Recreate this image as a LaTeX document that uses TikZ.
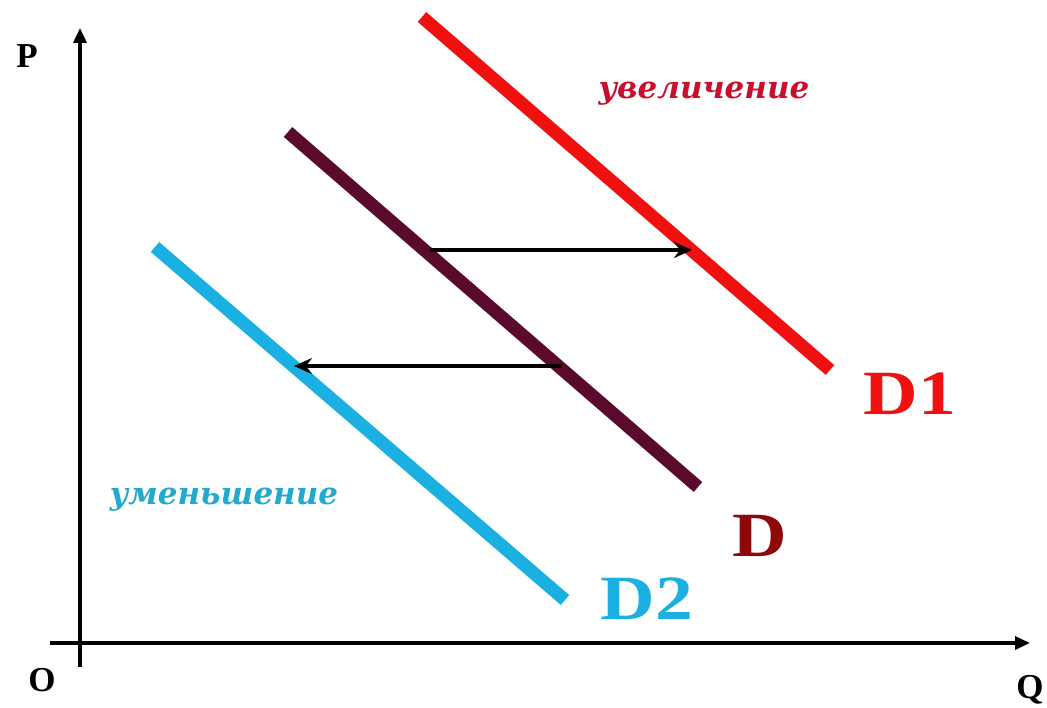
\documentclass[tikz,border=0pt]{standalone}
\usepackage{fontspec}
\setmainfont{Liberation Serif}
\newfontfamily\cyrit{DejaVu Serif}
\usetikzlibrary{arrows.meta}
\definecolor{cRed}{HTML}{F01010}
\definecolor{cMaroon}{HTML}{5A0A2C}
\definecolor{cCyan}{HTML}{1AB0E2}
\definecolor{cDlab}{HTML}{8E0A0A}
\definecolor{cUp}{HTML}{C8102E}
\definecolor{cDown}{HTML}{22AACC}
\newcommand{\wide}[1]{\scalebox{1.2}[1]{#1}}
\tikzset{
  axisline/.style={line width=3.5pt,-{Triangle[length=15pt,width=13pt]}},
  curve/.style={line width=13pt},
  shift arrow/.style={line width=3.5pt,-{Stealth[length=18pt,width=16pt,inset=6pt]}},
  axlabel/.style={font=\bfseries\fontsize{35}{35}\selectfont,inner sep=0pt},
  dlabel/.style={font=\bfseries\fontsize{63}{63}\selectfont,inner sep=0pt},
  note/.style={font=\cyrit\bfseries\itshape\fontsize{31}{31}\selectfont,inner sep=0pt}
}
\begin{document}
\begin{tikzpicture}[x=1pt,y=-1pt]
\useasboundingbox[fill=white] (0,0) rectangle (1047,708);
% axes
\coordinate (ybot) at (80,667);
\coordinate (ytop) at (80,28);
\coordinate (xleft) at (50,643);
\coordinate (xright) at (1030,643);
\draw[axisline] (ybot) -- (ytop);
\draw[axisline] (xleft) -- (xright);
\node[axlabel] (P) at (27,56) {P};
\node[axlabel] (O) at (42,680) {O};
\node[axlabel] (Q) at (1030,690) {Q};
% demand lines
\coordinate (d1a) at (422,17);
\coordinate (d1b) at (830,370);
\coordinate (da) at (288,132);
\coordinate (db) at (698,487);
\coordinate (d2a) at (155,247);
\coordinate (d2b) at (565,600);
\draw[curve,cRed] (d1a) -- (d1b);
\draw[curve,cMaroon] (da) -- (db);
\draw[curve,cCyan] (d2a) -- (d2b);
% shift arrows
\coordinate (upS) at (430,250);
\coordinate (upE) at (692,250);
\coordinate (dnS) at (562,366);
\coordinate (dnE) at (294,366);
\draw[shift arrow] (upS) -- (upE);
\draw[shift arrow] (dnS) -- (dnE);
% labels
\node[dlabel,text=cRed] (D1) at (910,394) {\wide{D1}};
\node[dlabel,text=cDlab] (D) at (760,536) {\wide{D}};
\node[dlabel,text=cCyan] (D2) at (647,599) {\wide{D2}};
\node[note,text=cUp] (up) at (704,94) {увеличение};
\node[note,text=cDown] (down) at (224,500) {уменьшение};
\end{tikzpicture}
\end{document}
